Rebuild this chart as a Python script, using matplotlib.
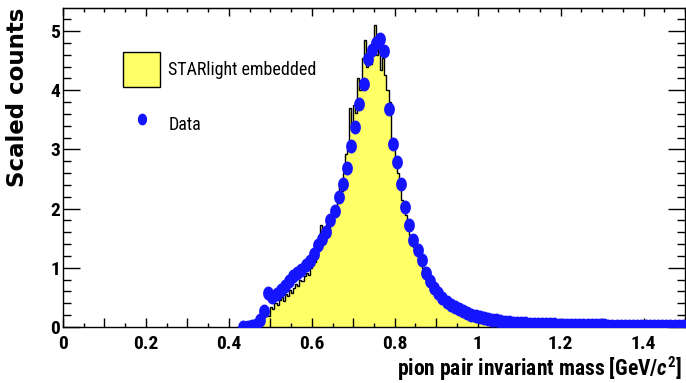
import matplotlib
matplotlib.use('Agg')
import matplotlib.pyplot as plt
from matplotlib.ticker import MultipleLocator, FuncFormatter, NullFormatter
from matplotlib.patches import Patch
from matplotlib.lines import Line2D
from matplotlib.path import Path
import numpy as np

plt.rcParams['font.family'] = ['Roboto Condensed', 'DejaVu Sans']
plt.rcParams['mathtext.fontset'] = 'custom'
plt.rcParams['mathtext.rm'] = 'Roboto Condensed:bold'
plt.rcParams['mathtext.it'] = 'Roboto Condensed:italic:bold'

# STARlight embedded MC, 5 MeV bins starting at 0.465 GeV
mc_lo, mc_width = 0.465, 0.005
mc_counts = [
    0.02, 0.05, 0.10, 0.16, 0.20, 0.28, 0.18, 0.34, 0.30, 0.40,
    0.38, 0.46, 0.50, 0.44, 0.55, 0.52, 0.62, 0.58, 0.66, 0.72,
    0.70, 0.80, 0.78, 0.86, 0.92, 0.88, 1.00, 1.05, 1.10, 1.18,
    1.38, 1.72, 1.48, 1.58, 1.74, 1.62, 1.85, 2.05, 2.00, 2.25,
    2.38, 2.30, 2.60, 2.92, 3.00, 3.70, 3.40, 3.75, 3.62, 4.20,
    4.00, 4.55, 4.85, 4.40, 4.62, 4.45, 4.70, 5.10, 4.60, 4.75,
    4.35, 4.55, 4.25, 4.00, 3.80, 3.20, 3.10, 2.75, 2.60, 2.40,
    2.15, 2.05, 1.90, 1.70, 1.55, 1.40, 1.35, 1.25, 1.18, 1.05,
    1.00, 0.90, 0.82, 0.78, 0.80, 0.68, 0.62, 0.55, 0.50, 0.40,
    0.46, 0.36, 0.40, 0.38, 0.42, 0.33, 0.36, 0.30, 0.38, 0.26,
    0.24, 0.22, 0.20, 0.18, 0.17, 0.15, 0.14, 0.12, 0.11, 0.10,
    0.09, 0.08, 0.07, 0.07, 0.06, 0.05, 0.05, 0.04, 0.04, 0.03,
    0.03, 0.03, 0.02, 0.02, 0.02, 0.01, 0.01, 0.01,
]

# measured pion pairs, 10 MeV bins, first bin centre 0.435 GeV
data_first, data_step = 0.435, 0.01
data_counts = [
    0.00, 0.00, 0.01, 0.04, 0.12, 0.27, 0.57, 0.50, 0.56, 0.63,
    0.69, 0.77, 0.86, 0.91, 0.97, 1.04, 1.12, 1.24, 1.38, 1.48,
    1.60, 1.80, 1.96, 2.20, 2.42, 2.69, 3.06, 3.38, 3.77, 4.10,
    4.52, 4.68, 4.80, 4.86, 4.67, 3.68, 3.09, 2.78, 2.42, 2.02,
    1.73, 1.47, 1.30, 1.14, 0.91, 0.77, 0.66, 0.57, 0.49, 0.43,
    0.38, 0.34, 0.30, 0.27, 0.24, 0.21, 0.19, 0.17, 0.15, 0.13,
    0.12, 0.11, 0.10, 0.09, 0.08, 0.075, 0.07, 0.065, 0.060, 0.058,
    0.055, 0.052, 0.050, 0.048, 0.045, 0.043, 0.041, 0.040, 0.038, 0.036,
    0.035, 0.033, 0.032, 0.030, 0.029, 0.028, 0.027, 0.026, 0.025, 0.024,
    0.023, 0.022, 0.021, 0.020, 0.020, 0.019, 0.018, 0.018, 0.017, 0.016,
    0.016, 0.015, 0.015, 0.014, 0.014, 0.013, 0.013,
]

mc_edges = mc_lo + mc_width * np.arange(len(mc_counts) + 1)
data_mass = data_first + data_step * np.arange(len(data_counts))

# slightly tall ellipse for the data markers
t = np.linspace(0, 2 * np.pi, 41)
oval = Path(np.column_stack([0.75 * np.cos(t), np.sin(t)]), closed=True)

fig = plt.figure(figsize=(6.86, 3.83), dpi=100)
ax = fig.add_axes([63 / 686, 56 / 383, 622 / 686, 319 / 383])

ax.stairs(mc_counts, mc_edges, fill=True, color='#ffff66', zorder=1)
ax.stairs(mc_counts, mc_edges, color='black', lw=1.0, zorder=2)
ax.plot(data_mass, data_counts, ls='none', marker=oval, ms=9,
        color='#1414ff', mec='#1414ff', zorder=3)

ax.set_xlim(0, 1.5)
ax.set_ylim(0, 5.39)

# bottom axis: labels every 0.2, long ticks every 0.1, short every 0.05
ax.xaxis.set_major_locator(MultipleLocator(0.1))
ax.xaxis.set_minor_locator(MultipleLocator(0.05))
ax.xaxis.set_major_formatter(FuncFormatter(
    lambda v, p: ('%g' % round(v, 1)) if round(v * 10) % 2 == 0 else ''))
ax.yaxis.set_major_locator(MultipleLocator(1))
ax.yaxis.set_minor_locator(MultipleLocator(0.2))

ax.tick_params(axis='both', which='both', direction='in', right=True,
               width=1.0, color='black')
ax.tick_params(axis='x', which='major', length=6.5, pad=5.5, labelsize=14)
ax.tick_params(axis='x', which='minor', length=3.2)
ax.tick_params(axis='y', which='major', length=12, pad=2, labelsize=14)
ax.tick_params(axis='y', which='minor', length=5.8)
for lab in ax.get_xticklabels() + ax.get_yticklabels():
    lab.set_fontweight('bold')
for s in ax.spines.values():
    s.set_linewidth(1.0)

# top axis: long ticks every 0.2 only
top = ax.secondary_xaxis('top')
top.xaxis.set_major_locator(MultipleLocator(0.2))
top.xaxis.set_minor_locator(MultipleLocator(0.05))
top.xaxis.set_major_formatter(NullFormatter())
top.tick_params(axis='x', which='major', direction='in', length=6, width=1.0)
top.tick_params(axis='x', which='minor', direction='in', length=3, width=1.0)

ax.set_xlabel('pion pair invariant mass [GeV/$c^{2}$]', loc='right',
              fontsize=15.5, fontweight='bold')
ax.xaxis.set_label_coords(0.995, -0.085)
ax.set_ylabel('Scaled counts', loc='top', fontsize=16.5, fontweight='bold',
              family='DejaVu Sans')
ax.yaxis.set_label_coords(-0.055, 1.0)

handles = [
    Patch(facecolor='#ffff66', edgecolor='black', lw=1.0, label='STARlight embedded'),
    Line2D([], [], ls='none', marker=oval, ms=7.5, color='#1414ff', label='Data'),
]
ax.legend(handles=handles, loc='upper left', bbox_to_anchor=(0.0965, 0.862),
          frameon=False, fontsize=13, handlelength=2.05, handleheight=2.6,
          handletextpad=0.45, labelspacing=1.12, borderpad=0, borderaxespad=0)

fig.savefig('out.png', dpi=100)
